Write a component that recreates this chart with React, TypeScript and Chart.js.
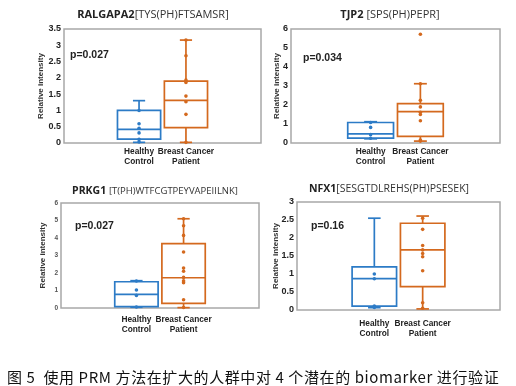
import React, { useEffect, useRef } from "react";
import { Chart, registerables } from "chart.js";
Chart.register(...registerables);

// ---------- data ----------
const CATEGORIES = [["Healthy", "Control"], ["Breast Cancer", "Patient"]];
const CATEGORY_POS = [1, 2];

// box stats: [min, q1, median, q3, max]
const RAL_HC_STATS = [0.02, 0.12, 0.42, 1.0, 1.3];
const RAL_HC_POINTS = [0.03, 0.11, 0.31, 0.45, 0.59, 1.0];
const RAL_BC_STATS = [0.02, 0.47, 1.31, 1.9, 3.16];
const RAL_BC_POINTS = [0.02, 0.88, 1.27, 1.44, 1.86, 1.93, 2.68, 3.16];
const RAL_Y_TICKS = [0, 0.5, 1, 1.5, 2, 2.5, 3, 3.5];

const TJP_HC_STATS = [0.22, 0.26, 0.48, 1.08, 1.12];
const TJP_HC_POINTS = [0.25, 0.44, 0.82, 1.08];
const TJP_BC_STATS = [0.1, 0.35, 1.65, 2.07, 3.12];
const TJP_BC_POINTS = [0.1, 0.16, 1.17, 1.5, 1.62, 1.9, 2.25, 3.12, 5.72];
const TJP_Y_TICKS = [0, 1, 2, 3, 4, 5, 6];

const PRK_HC_STATS = [0.04, 0.08, 0.78, 1.5, 1.56];
const PRK_HC_POINTS = [0.06, 0.72, 1.03, 1.54];
const PRK_BC_STATS = [0.02, 0.27, 1.73, 3.68, 5.1];
const PRK_BC_POINTS = [0.03, 0.47, 1.45, 1.55, 1.75, 2.1, 2.28, 3.2, 4.15, 4.7, 5.1];
const PRK_Y_TICKS = [0, 1, 2, 3, 4, 5, 6];

const NFX_HC_STATS = [0.065, 0.11, 0.87, 1.2, 2.55];
const NFX_HC_POINTS = [0.07, 0.11, 0.87, 1.0];
const NFX_BC_STATS = [0.03, 0.65, 1.67, 2.41, 2.61];
const NFX_BC_POINTS = [0.05, 0.2, 1.09, 1.48, 1.57, 1.67, 1.79, 2.24, 2.55];
const NFX_Y_TICKS = [0, 0.5, 1, 1.5, 2, 2.5, 3];

const TITLES = [
  ["RALGAPA2", "[TYS(PH)FTSAMSR]"],
  ["TJP2 ", "[SPS(PH)PEPR]"],
  ["PRKG1 ", "[T(PH)WTFCGTPEYVAPEIILNK]"],
  ["NFX1", "[SESGTDLREHS(PH)PSESEK]"],
];
const P_VALUES = ["p=0.027", "p=0.034", "p=0.027", "p=0.16"];
const CAPTION = "图 5  使用 PRM 方法在扩大的人群中对 4 个潜在的 biomarker 进行验证";

// ---------- styles / layout ----------
const BLUE = "#2c7bc6";
const ORANGE = "#d4691e";
const FONT = "'Liberation Sans', Arial, sans-serif";

const PANELS = [
  { stats: [RAL_HC_STATS, RAL_BC_STATS], points: [RAL_HC_POINTS, RAL_BC_POINTS], yTicks: RAL_Y_TICKS,
    frame: [64, 29, 261, 143], axisLeft: 36, xPad: 3, tickSize: 9, tickColor: "#222",
    titleC: [153, 12], titleSizes: [11, 11], pPos: [70, 54] },
  { stats: [TJP_HC_STATS, TJP_BC_STATS], points: [TJP_HC_POINTS, TJP_BC_POINTS], yTicks: TJP_Y_TICKS,
    frame: [291, 29, 500, 143], axisLeft: 272, xPad: 3, tickSize: 9, tickColor: "#222",
    titleC: [390, 12], titleSizes: [11, 11], pPos: [303, 57] },
  { stats: [PRK_HC_STATS, PRK_BC_STATS], points: [PRK_HC_POINTS, PRK_BC_POINTS], yTicks: PRK_Y_TICKS,
    frame: [61, 203, 259, 308], axisLeft: 38, xPad: 6, tickSize: 6.5, tickColor: "#555",
    titleC: [155, 188], titleSizes: [10.5, 9.5], pPos: [75, 225] },
  { stats: [NFX_HC_STATS, NFX_BC_STATS], points: [NFX_HC_POINTS, NFX_BC_POINTS], yTicks: NFX_Y_TICKS,
    frame: [297, 202, 500, 310], axisLeft: 271, xPad: 8, tickSize: 9, tickColor: "#222",
    titleC: [389, 186], titleSizes: [10.5, 10.5], pPos: [311, 225] },
];

const W = 516;
const H = 386;
const X_AXIS_H = 30;

function boxDatasets(stats: number[], points: number[], pos: number, color: string) {
  const [mn, q1, md, q3, mx] = stats;
  const hw = 0.46;
  const cw = 0.13;
  const seg = (pts: { x: number; y: number }[]) => ({
    type: "line" as const,
    data: pts,
    borderColor: color,
    borderWidth: 1.7,
    pointRadius: 0,
    pointHoverRadius: 0,
    fill: false,
    showLine: true,
    tension: 0,
    clip: false as any,
    borderJoinStyle: "miter" as const,
  });
  return [
    seg([
      { x: pos - hw, y: q1 }, { x: pos + hw, y: q1 }, { x: pos + hw, y: q3 },
      { x: pos - hw, y: q3 }, { x: pos - hw, y: q1 }, { x: pos + hw, y: q1 },
    ]),
    seg([{ x: pos - hw, y: md }, { x: pos + hw, y: md }]),
    seg([{ x: pos, y: q3 }, { x: pos, y: mx }]),
    seg([{ x: pos - cw, y: mx }, { x: pos + cw, y: mx }]),
    seg([{ x: pos, y: q1 }, { x: pos, y: mn }]),
    seg([{ x: pos - cw, y: mn }, { x: pos + cw, y: mn }]),
    {
      type: "scatter" as const,
      data: points.map((y) => ({ x: pos, y })),
      pointRadius: 1.8,
      pointHoverRadius: 1.8,
      backgroundColor: color,
      borderColor: color,
      borderWidth: 0,
      clip: false as any,
    },
  ];
}

const framePlugin = {
  id: "frame",
  beforeDatasetsDraw(chart: any) {
    const { ctx, chartArea } = chart;
    const { left, top, right, bottom } = chartArea;
    ctx.save();
    ctx.strokeStyle = "#a8a8a8";
    ctx.lineWidth = 1.5;
    ctx.strokeRect(left, top, right - left, bottom - top);
    ctx.restore();
  },
};

function Panel({ cfg }: { cfg: any }) {
  const ref = useRef<HTMLCanvasElement>(null);
  useEffect(() => {
    if (!ref.current) return;
    const [fl, ft, fr, fb] = cfg.frame;
    const colors = [BLUE, ORANGE];
    const datasets: any[] = [];
    CATEGORY_POS.forEach((pos, i) => {
      datasets.push(...boxDatasets(cfg.stats[i], cfg.points[i], pos, colors[i]));
    });
    const yTicks: number[] = cfg.yTicks;
    const chart = new Chart(ref.current, {
      type: "scatter",
      data: { datasets },
      plugins: [framePlugin],
      options: {
        responsive: false,
        animation: false,
        events: [],
        layout: {
          padding: { left: cfg.axisLeft, top: ft, right: W - fr, bottom: H - fb - X_AXIS_H },
        },
        plugins: { legend: { display: false }, tooltip: { enabled: false }, title: { display: false } },
        scales: {
          x: {
            type: "linear",
            min: -0.6,
            max: 3.6,
            grid: { display: false, drawTicks: false },
            border: { display: false },
            afterBuildTicks: (scale: any) => {
              scale.ticks = CATEGORY_POS.map((v) => ({ value: v }));
            },
            afterFit: (scale: any) => {
              scale.height = X_AXIS_H;
            },
            ticks: {
              autoSkip: false,
              maxRotation: 0,
              padding: cfg.xPad,
              color: "#222",
              font: { family: FONT, size: 8.3, weight: "bold", lineHeight: 1.3 },
              callback: (v: any) => {
                const idx = CATEGORY_POS.indexOf(Number(v));
                return idx >= 0 ? CATEGORIES[idx] : "";
              },
            },
          },
          y: {
            type: "linear",
            min: yTicks[0],
            max: yTicks[yTicks.length - 1],
            grid: { display: false, drawTicks: false },
            border: { display: false },
            afterBuildTicks: (scale: any) => {
              scale.ticks = yTicks.map((v) => ({ value: v }));
            },
            afterFit: (scale: any) => {
              scale.width = fl - cfg.axisLeft;
            },
            ticks: {
              padding: 3,
              color: cfg.tickColor,
              font: { family: FONT, size: cfg.tickSize, weight: "bold" },
              callback: (v: any) => String(v),
            },
            title: {
              display: true,
              text: "Relative intensity",
              color: "#333",
              padding: 0,
              font: { family: FONT, size: 8, weight: "bold" },
            },
          },
        },
      } as any,
    });
    return () => chart.destroy();
  }, [cfg]);
  return (
    <canvas
      ref={ref}
      width={W}
      height={H}
      style={{ position: "absolute", left: 0, top: 0, width: W, height: H }}
    />
  );
}

export default function App() {
  return (
    <div style={{ position: "absolute", left: 0, top: 0, width: W, height: H, background: "#fff", overflow: "hidden" }}>
      {PANELS.map((cfg, i) => (
        <Panel key={i} cfg={cfg} />
      ))}
      {PANELS.map((cfg, i) => (
        <div
          key={"t" + i}
          style={{
            position: "absolute",
            left: cfg.titleC[0],
            top: cfg.titleC[1] - 8,
            transform: "translateX(-50%)",
            whiteSpace: "nowrap",
            lineHeight: "16px",
            fontFamily: "'Open Sans', sans-serif",
            color: "#222",
          }}
        >
          <span style={{ fontWeight: 700, fontSize: cfg.titleSizes[0] }}>{TITLES[i][0]}</span>
          <span style={{ fontWeight: 400, fontSize: cfg.titleSizes[1], color: "#333" }}>{TITLES[i][1]}</span>
        </div>
      ))}
      {PANELS.map((cfg, i) => (
        <div
          key={"p" + i}
          style={{
            position: "absolute",
            left: cfg.pPos[0],
            top: cfg.pPos[1] - 7,
            lineHeight: "14px",
            fontFamily: FONT,
            fontWeight: 700,
            fontSize: 10.5,
            color: "#222",
            whiteSpace: "nowrap",
          }}
        >
          {P_VALUES[i]}
        </div>
      ))}
      <div
        style={{
          position: "absolute",
          left: 7,
          top: 367,
          lineHeight: "20px",
          fontFamily: "'Noto Sans CJK SC', sans-serif",
          fontSize: 15,
          letterSpacing: "0.6px",
          color: "#111",
          whiteSpace: "pre",
        }}
      >
        {CAPTION}
      </div>
    </div>
  );
}
